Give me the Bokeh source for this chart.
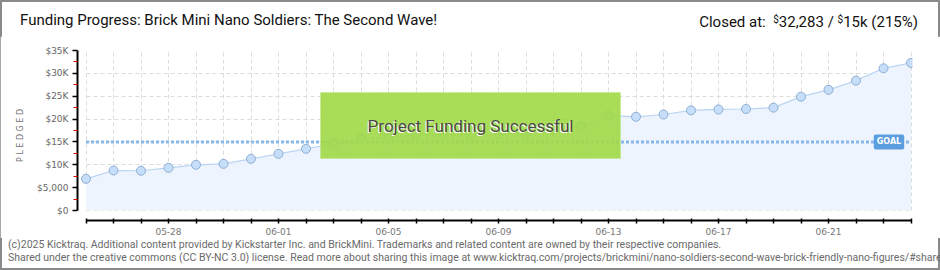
from bokeh.plotting import figure
from bokeh.models import Range1d, FixedTicker, Label, BoxAnnotation, ColumnDataSource, Div
from bokeh.layouts import column
from bokeh.embed import file_html
from bokeh.resources import INLINE

# ---------------- data ----------------
dates = ["05-25", "05-26", "05-27", "05-28", "05-29", "05-30", "05-31",
         "06-01", "06-02", "06-03", "06-04", "06-05", "06-06", "06-07", "06-08",
         "06-09", "06-10", "06-11", "06-12", "06-13", "06-14", "06-15", "06-16",
         "06-17", "06-18", "06-19", "06-20", "06-21", "06-22", "06-23", "06-24"]
pledged = [6930, 8750, 8700, 9330, 10000, 10200, 11300,
           12400, 13500, 14600, 15800, 16000, 16550, 16550, 16550,
           16800, 16800, 17500, 18400, 20800, 20500, 21000, 21900,
           22100, 22200, 22500, 24900, 26400, 28400, 31100, 32283]
goal = 15000
y_tick_values = [0, 5000, 10000, 15000, 20000, 25000, 30000, 35000]
y_tick_labels = ["$0", "$5,000", "$10K", "$15K", "$20K", "$25K", "$30K", "$35K"]
x_label_dates = ["05-28", "06-01", "06-05", "06-09", "06-13", "06-17", "06-21"]

title_text = "Funding Progress: Brick Mini Nano Soldiers: The Second Wave!"
closed_label = "Closed at:"
closed_amount = "32,283"
goal_amount = "15k"
closed_pct = "(215%)"
banner_text = "Project Funding Successful"
footer1 = ("(c)2025 Kicktraq. Additional content provided by Kickstarter Inc. and BrickMini. "
           "Trademarks and related content are owned by their respective companies.")
footer2 = ("Shared under the creative commons (CC BY-NC 3.0) license. Read more about sharing this "
           "image at www.kicktraq.com/projects/brickmini/nano-soldiers-second-wave-brick-friendly-nano-figures/#share")

# ---------------- layout geometry ----------------
W, H = 940, 270
HEAD_H = 36
FOOT_H = 32
PLOT_H = H - HEAD_H - FOOT_H          # 202
FL, FR = 77, 912                      # frame left / right (canvas px)
FT, FB = 50, 220                      # frame top / bottom (page px)
X0, X1 = 85.5, 910.5                  # pixel of first / last day
Y0 = 210                              # pixel of $0
n = len(dates)
px_day = (X1 - X0) / (n - 1)
px_usd = (Y0 - FT) / 35000.0

xs = list(range(n))
src = ColumnDataSource(dict(x=xs, y=pledged, base=[0] * n))

p = figure(width=W, height=PLOT_H, output_backend="svg", toolbar_location=None, title=None,
           x_range=Range1d(-(X0 - FL) / px_day, (n - 1) + (FR - X1) / px_day),
           y_range=Range1d(-(FB - Y0) / px_usd, 35000),
           min_border_left=FL, min_border_right=W - FR,
           min_border_top=FT - HEAD_H, min_border_bottom=HEAD_H + PLOT_H - FB,
           margin=0)
p.outline_line_color = None
p.background_fill_color = "white"
p.border_fill_color = "white"

# grids
p.xgrid.ticker = FixedTicker(ticks=xs)
p.ygrid.ticker = FixedTicker(ticks=y_tick_values)
for g in (p.xgrid, p.ygrid):
    g.grid_line_color = "#dcdcdc"
    g.grid_line_dash = "4 3"
    g.grid_line_width = 1
try:
    p.xgrid.cross_bounds = (0, 35000)
    p.ygrid.cross_bounds = (0, n - 1)
except Exception:
    pass

# area, line, markers
p.varea(x="x", y1="base", y2="y", source=src, fill_color="#edf4fd", fill_alpha=1)
p.line(x="x", y="y", source=src, line_color="#b9d5f3", line_width=1.2)
p.segment(x0=[xs[0]], y0=[goal], x1=[xs[-1]], y1=[goal], line_color="#8ab8ea",
          line_width=3, line_dash="3 2")
p.scatter(x="x", y="y", source=src, size=9, fill_color="#c6defa",
          line_color="#8eaed2", line_width=1)

# axes
xa = p.xaxis[0]
xa.ticker = FixedTicker(ticks=xs)
xa.major_label_overrides = {i: (d if d in x_label_dates else "") for i, d in enumerate(dates)}
xa.bounds = (0, n - 1)
xa.axis_line_color = "black"
xa.axis_line_width = 2
xa.major_tick_line_color = "black"
xa.major_tick_line_width = 1.5
xa.major_tick_in = 2
xa.major_tick_out = 3
xa.minor_tick_line_color = None
xa.major_label_text_font = "DejaVu Sans"
xa.major_label_text_font_size = "9px"
xa.major_label_text_color = "#777777"
xa.major_label_standoff = 4

ya = p.yaxis[0]
ya.ticker = FixedTicker(ticks=y_tick_values,
                        minor_ticks=[v + 2500 for v in y_tick_values[:-1]])
ya.major_label_overrides = {v: l for v, l in zip(y_tick_values, y_tick_labels)}
ya.bounds = (0, 35000)
ya.axis_line_color = "black"
ya.axis_line_width = 2
ya.major_tick_line_color = "black"
ya.major_tick_line_width = 1.5
ya.major_tick_in = 0
ya.major_tick_out = 5
ya.minor_tick_line_color = "#e00000"
ya.minor_tick_in = 0
ya.minor_tick_out = 4
ya.major_label_text_font = "DejaVu Sans"
ya.major_label_text_font_size = "9px"
ya.major_label_text_color = "#666666"
ya.major_label_standoff = 4
ya.axis_label = "P L E D G E D"
ya.axis_label_text_font = "DejaVu Sans"
ya.axis_label_text_font_size = "8px"
ya.axis_label_text_font_style = "normal"
ya.axis_label_text_color = "#777777"
ya.axis_label_standoff = 9

# goal tag
p.add_layout(Label(x=xs[-1], y=goal, x_offset=-22, text="GOAL", text_align="center",
                   text_baseline="middle", text_color="white", text_font="DejaVu Sans",
                   text_font_size="8px", text_font_style="bold",
                   background_fill_color="#5b9ee0", padding=3, border_radius=2))

# success banner
b_left = (320 - X0) / px_day
b_right = (620 - X0) / px_day
b_top = (Y0 - 92) / px_usd
b_bot = (Y0 - 158) / px_usd
p.add_layout(BoxAnnotation(left=b_left, right=b_right, top=b_top, bottom=b_bot,
                           fill_color="#a3dc4a", fill_alpha=0.9,
                           line_color="#bde87c", line_width=1,
                           hatch_pattern="/", hatch_color="#94cc3c", hatch_alpha=0.35,
                           hatch_scale=5, hatch_weight=1))
bx = (b_left + b_right) / 2
by = (b_top + b_bot) / 2
p.add_layout(Label(x=bx, y=by, x_offset=-1, y_offset=-1, text=banner_text,
                   text_align="center", text_baseline="middle", text_color="white",
                   text_font="Roboto", text_font_size="17px"))
p.add_layout(Label(x=bx, y=by, text=banner_text, text_align="center",
                   text_baseline="middle", text_color="#4a4a4a",
                   text_font="Roboto", text_font_size="17px"))

# ---------------- header / footer ----------------
sup = '<span style="font-size:10px;vertical-align:4px;">$</span>'
header_html = (
    '<div style="position:relative;width:940px;height:%dpx;font-family:Roboto;'
    'font-size:15px;color:#111;line-height:18px;white-space:nowrap;">'
    '<span style="position:absolute;left:20px;top:11px;">%s</span>'
    '<span style="position:absolute;right:22px;top:11px;">%s&nbsp; %s%s / %s%s %s</span>'
    '</div>' % (HEAD_H, title_text, closed_label, sup, closed_amount, sup, goal_amount, closed_pct))
header = Div(text=header_html, width=W, height=HEAD_H, margin=0)

footer_html = (
    '<div style="width:940px;height:%dpx;overflow:hidden;white-space:nowrap;'
    'font-family:Roboto;font-size:10.5px;color:#6a6a6a;line-height:13px;padding-top:0px;">'
    '<div style="padding-left:8px;">%s</div><div style="padding-left:8px;">%s</div>'
    '</div>' % (FOOT_H, footer1, footer2))
footer = Div(text=footer_html, width=W, height=FOOT_H, margin=0)

layout = column(header, p, footer, spacing=0, width=W, height=H, margin=0,
                styles={"outline": "2px solid #8a8a8a", "outline-offset": "-2px",
                        "background": "white"})

open("out.html", "w").write(file_html(layout, INLINE))
